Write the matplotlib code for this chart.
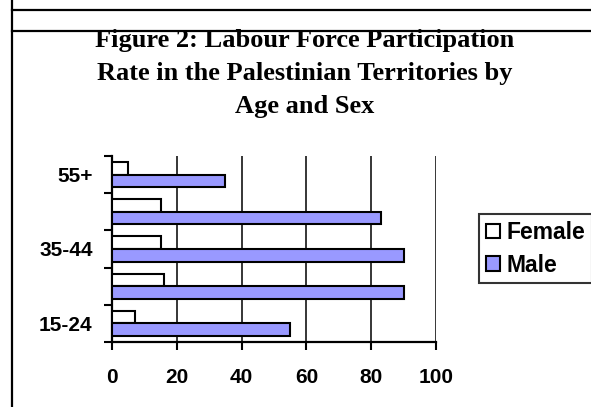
import numpy as np
import matplotlib
matplotlib.use('Agg')
import matplotlib.pyplot as plt
from matplotlib.lines import Line2D

# data (percent)
age_groups = ['15-24', '25-34', '35-44', '45-54', '55+']
age_labels = ['15-24', '', '35-44', '', '55+']
female = [7, 16, 15, 15, 5]
male = [55, 90, 90, 83, 35]
x_ticks = [0, 20, 40, 60, 80, 100]

title_lines = ['Figure 2: Labour Force Participation',
               'Rate in the Palestinian Territories by',
               'Age and Sex']

W, H = 591, 407
fig = plt.figure(figsize=(W / 100, H / 100), dpi=100)
ax = fig.add_axes([112 / W, 65 / H, 324 / W, 186 / H])

y = np.arange(len(age_groups))
bh = 0.34
ax.barh(y + bh / 2, female, height=bh, color='white', edgecolor='black',
        linewidth=1.5, label='Female', zorder=3)
ax.barh(y - bh / 2, male, height=bh, color='#9999ff', edgecolor='black',
        linewidth=1.5, label='Male', zorder=3)

ax.set_xlim(0, 100)
ax.set_ylim(-0.5, len(age_groups) - 0.5)
ax.set_xticks(x_ticks)
ax.set_xticklabels([str(v) for v in x_ticks], fontfamily='Liberation Sans',
                   fontweight='bold', fontsize=15)
ax.set_yticks(np.arange(len(age_groups) + 1) - 0.5)
ax.set_yticklabels([])
ax.set_yticks(y, minor=True)
ax.set_yticklabels(age_labels, minor=True, fontfamily='Liberation Sans',
                   fontweight='bold', fontsize=15)
ax.tick_params(axis='y', which='major', length=6, width=1.5, direction='out')
ax.tick_params(axis='y', which='minor', length=0, pad=14)
ax.tick_params(axis='x', length=6, width=1.5, direction='out', pad=13)
ax.grid(axis='x', color='black', linewidth=1.1, zorder=0)
ax.set_axisbelow(True)
for s in ['top', 'right']:
    ax.spines[s].set_visible(False)
for s in ['left', 'bottom']:
    ax.spines[s].set_linewidth(1.6)

leg = fig.legend(loc='upper left', bbox_to_anchor=(479 / W, 1 - 214 / H),
                 prop={'family': 'Liberation Sans', 'weight': 'bold', 'size': 16.5},
                 frameon=True, fancybox=False, edgecolor='black',
                 handlelength=0.6, handleheight=0.6, handletextpad=0.3,
                 borderpad=0.3, labelspacing=0.42, borderaxespad=0)
leg.get_frame().set_linewidth(1.5)

# title, one line at a time
for i, line in enumerate(title_lines):
    fig.text(305 / W, 1 - (47.5 + 32.7 * i) / H, line, ha='center', va='baseline',
             fontfamily='Liberation Serif', fontweight='bold', fontsize=19)

# frame lines around the chart area
fig.add_artist(Line2D([12 / W, 12 / W], [0, 1], color='black', linewidth=1.6))
fig.add_artist(Line2D([12 / W, 1], [1 - 10 / H, 1 - 10 / H], color='black', linewidth=1.6))
fig.add_artist(Line2D([12 / W, 1], [1 - 31 / H, 1 - 31 / H], color='black', linewidth=1.6))

fig.savefig('out.png', dpi=100)
